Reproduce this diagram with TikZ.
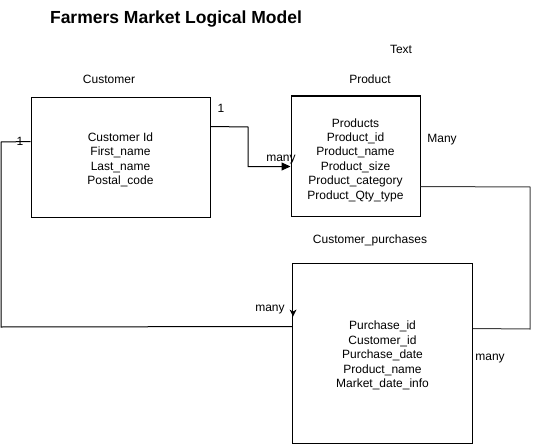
\documentclass[tikz,border=0pt]{standalone}
\usepackage{fontspec}
\setmainfont{Liberation Sans}
\usetikzlibrary{arrows.meta,calc}
\begin{document}
\begin{tikzpicture}[x=1pt,y=-1pt,
  txt/.style={font=\fontsize{12}{14.4}\selectfont, inner sep=0pt},
  entity/.style={draw, line width=1pt, inner sep=0pt},
  etext/.style={align=center, inner sep=0pt, font=\fontsize{12}{14.4}\selectfont},
  conn/.style={line width=1pt}]
\useasboundingbox (0,0) rectangle (533,444);
\fill[white] (0,0) rectangle (533,444);
% title and labels
\node[font=\fontsize{17.5}{20}\selectfont\bfseries, inner sep=0pt] (title) at (176,19) {Farmers Market Logical Model};
\node[txt] (textlbl) at (401,49) {Text};
\node[txt] (custlbl) at (109,79) {Customer};
\node[txt] (prodlbl) at (370,79) {Product};
\node[txt] (purlbl) at (370,240) {Customer\_purchases};
% entities
\node[entity, minimum width=179pt, minimum height=120pt] (cust) at (120.5,157) {};
\node[etext] (custtxt) at ($(cust.center)+(0,3)$)
  {Customer Id\\First\_name\\Last\_name\\Postal\_code};
\node[entity, minimum width=129pt, minimum height=120pt] (prod) at (355.5,156) {};
\node[etext] (prodtxt) at ($(prod.center)+(0,4)$)
  {Products\\Product\_id\\Product\_name\\Product\_size\\Product\_category\\Product\_Qty\_type};
\node[entity, minimum width=180pt, minimum height=180pt] (pur) at (382.5,353) {};
\node[etext] (purtxt) at ($(pur.center)+(0,2.5)$)
  {Purchase\_id\\Customer\_id\\Purchase\_date\\Product\_name\\Market\_date\_info};
% connector customer -> product
\coordinate (c1) at ($(cust.north east)+(0,30)$);
\coordinate (p1) at ($(prod.north west)+(0,71)$);
\draw[conn, -{Triangle[length=9pt,width=8pt]}] (c1) -- (248,127) |- (p1);
\node[txt] (one1) at (221,108) {1};
\node[txt] (many1) at (281,160) {many};
% connector customer -> purchases
\coordinate (c2) at ($(cust.north west)+(0,45)$);
\coordinate (u2) at ($(pur.north west)+(0,64)$);
\draw[conn] (c2) -- (1,142) -- (1,327) -- (u2);
\fill ($(pur.north west)+(1,54)$) -- ++(-3.5,-7) -- ++(3.5,2) -- ++(3.5,-2) -- cycle;
\node[txt] (one2) at (20,141) {1};
\node[txt] (many2) at (270,310) {many};
% connector product -> purchases
\coordinate (p3) at ($(prod.north east)+(0,91)$);
\coordinate (u3) at ($(pur.north east)+(0,66)$);
\draw[conn, draw=black!75] (p3) -- (530,187) -- (530,329) -- (u3);
\node[txt] (many3) at (442,140) {Many};
\node[txt] (many4) at (490,359) {many};
\end{tikzpicture}
\end{document}
